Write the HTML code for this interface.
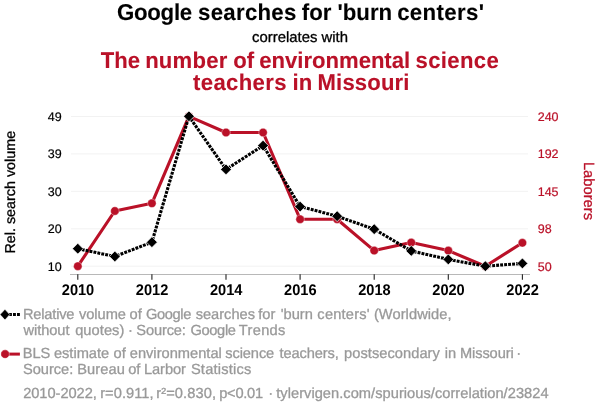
<!DOCTYPE html>
<html lang="en"><head><meta charset="utf-8"><title>Spurious correlation</title>
<style>
html,body{margin:0;padding:0;background:#fff;}
body{width:600px;height:414px;overflow:hidden;}
svg{display:block;font-family:"Liberation Sans",sans-serif;text-rendering:geometricPrecision;}
text{stroke-linejoin:round;}
.t1{font-size:22.24px;font-weight:bold;fill:#000;stroke:#000;stroke-width:.1px;text-anchor:middle;}
.t2{font-size:14.9px;fill:#000;stroke:#000;stroke-width:.3px;text-anchor:middle;}
.t3{font-size:22.11px;font-weight:bold;fill:#ba1128;stroke:#ba1128;stroke-width:.1px;text-anchor:middle;}
.yl{font-size:12.5px;fill:#000;stroke:#000;stroke-width:.18px;text-anchor:end;}
.yr{font-size:12.5px;fill:#ba1128;stroke:#ba1128;stroke-width:.2px;text-anchor:start;}
.xl{font-size:14.6px;font-weight:bold;fill:#000;text-anchor:middle;}
.al{font-size:14.35px;fill:#000;stroke:#000;stroke-width:.3px;text-anchor:middle;}
.ar{font-size:14.75px;fill:#ba1128;stroke:#ba1128;stroke-width:.3px;text-anchor:middle;}
.lg{font-size:14.7px;fill:#999999;stroke:#999999;stroke-width:.3px;}
</style></head><body>
<svg width="600" height="414" viewBox="0 0 600 414">
<rect width="600" height="414" fill="#fff"/>
<g transform="translate(0,20) scale(1,1.030)"><text class="t1" y="0" style="text-anchor:start"><tspan x="116.92" style="letter-spacing:-0.254px">Google</tspan> <tspan x="198.05" style="letter-spacing:0.270px">searches</tspan> <tspan x="301.84">for</tspan> <tspan x="337.45">'burn</tspan> <tspan x="397.16" style="letter-spacing:0.350px">centers'</tspan></text></g>
<text class="t2" transform="translate(300.00,42.00) scale(1,1.000)">correlates with</text>
<g transform="translate(0,68) scale(1,1.030)"><text class="t3" y="0" style="text-anchor:start"><tspan x="100.64">The</tspan> <tspan x="145.13" style="letter-spacing:0.220px">number</tspan> <tspan x="233.14">of</tspan> <tspan x="259.36" style="letter-spacing:-0.031px">environmental</tspan> <tspan x="415.49" style="letter-spacing:0.350px">science</tspan></text></g>
<g transform="translate(0,90) scale(1,1.030)"><text class="t3" y="0" style="text-anchor:start"><tspan x="193.05" style="letter-spacing:0.350px">teachers</tspan> <tspan x="292.53">in</tspan> <tspan x="317.56" style="letter-spacing:0.150px">Missouri</tspan></text></g>
<line x1="71" x2="528" y1="116.5" y2="116.5" stroke="#f2f2f2" stroke-width="1"/>
<line x1="71" x2="528" y1="153.9" y2="153.9" stroke="#f2f2f2" stroke-width="1"/>
<line x1="71" x2="528" y1="191.3" y2="191.3" stroke="#f2f2f2" stroke-width="1"/>
<line x1="71" x2="528" y1="228.8" y2="228.8" stroke="#f2f2f2" stroke-width="1"/>
<line x1="71" x2="528" y1="266.2" y2="266.2" stroke="#f2f2f2" stroke-width="1"/>
<line x1="70" x2="530" y1="274.5" y2="274.5" stroke="#b8b8b8" stroke-width="1"/>
<line x1="77.8" x2="77.8" y1="274.2" y2="279.8" stroke="#222" stroke-width="1.1"/>
<text class="xl" transform="translate(78.00,295.00) scale(1,1.060)">2010</text>
<line x1="151.9" x2="151.9" y1="274.2" y2="279.8" stroke="#222" stroke-width="1.1"/>
<text class="xl" transform="translate(152.10,295.00) scale(1,1.060)">2012</text>
<line x1="226.0" x2="226.0" y1="274.2" y2="279.8" stroke="#222" stroke-width="1.1"/>
<text class="xl" transform="translate(226.20,295.00) scale(1,1.060)">2014</text>
<line x1="300.1" x2="300.1" y1="274.2" y2="279.8" stroke="#222" stroke-width="1.1"/>
<text class="xl" transform="translate(300.30,295.00) scale(1,1.060)">2016</text>
<line x1="374.2" x2="374.2" y1="274.2" y2="279.8" stroke="#222" stroke-width="1.1"/>
<text class="xl" transform="translate(374.40,295.00) scale(1,1.060)">2018</text>
<line x1="448.3" x2="448.3" y1="274.2" y2="279.8" stroke="#222" stroke-width="1.1"/>
<text class="xl" transform="translate(448.50,295.00) scale(1,1.060)">2020</text>
<line x1="522.4" x2="522.4" y1="274.2" y2="279.8" stroke="#222" stroke-width="1.1"/>
<text class="xl" transform="translate(522.60,295.00) scale(1,1.060)">2022</text>
<text class="yl" transform="translate(61.70,121.00) scale(1,1.000)">49</text>
<text class="yr" transform="translate(537.70,121.00) scale(1,1.000)">240</text>
<text class="yl" transform="translate(61.70,158.00) scale(1,1.000)">39</text>
<text class="yr" transform="translate(537.70,158.00) scale(1,1.000)">192</text>
<text class="yl" transform="translate(61.70,196.00) scale(1,1.000)">30</text>
<text class="yr" transform="translate(537.70,196.00) scale(1,1.000)">145</text>
<text class="yl" transform="translate(61.70,233.00) scale(1,1.000)">20</text>
<text class="yr" transform="translate(537.70,233.00) scale(1,1.000)">98</text>
<text class="yl" transform="translate(61.70,271.00) scale(1,1.000)">10</text>
<text class="yr" transform="translate(537.70,271.00) scale(1,1.000)">50</text>
<text class="al" transform="translate(14.90,192.20) rotate(-90) scale(1,1.000)">Rel. search volume</text>
<text class="ar" transform="translate(584.00,191.00) rotate(90) scale(1,1.000)">Laborers</text>
<polyline points="77.8,266.2 114.8,211.0 151.9,203.3 188.9,116.3 226.0,132.5 263.1,132.5 300.1,219.2 337.1,219.2 374.2,250.6 411.2,242.6 448.3,250.6 485.3,266.2 522.4,242.8" fill="none" stroke="#ba1128" stroke-width="3.1" stroke-linejoin="round"/>
<circle cx="77.80" cy="266.20" r="4.25" fill="#ba1128" stroke="#fff" stroke-width="0.40"/>
<circle cx="114.85" cy="211.00" r="4.25" fill="#ba1128" stroke="#fff" stroke-width="0.40"/>
<circle cx="151.90" cy="203.30" r="4.25" fill="#ba1128" stroke="#fff" stroke-width="0.40"/>
<circle cx="188.95" cy="116.30" r="4.25" fill="#ba1128" stroke="#fff" stroke-width="0.40"/>
<circle cx="226.00" cy="132.50" r="4.25" fill="#ba1128" stroke="#fff" stroke-width="0.40"/>
<circle cx="263.05" cy="132.50" r="4.25" fill="#ba1128" stroke="#fff" stroke-width="0.40"/>
<circle cx="300.10" cy="219.20" r="4.25" fill="#ba1128" stroke="#fff" stroke-width="0.40"/>
<circle cx="337.15" cy="219.20" r="4.25" fill="#ba1128" stroke="#fff" stroke-width="0.40"/>
<circle cx="374.20" cy="250.60" r="4.25" fill="#ba1128" stroke="#fff" stroke-width="0.40"/>
<circle cx="411.25" cy="242.60" r="4.25" fill="#ba1128" stroke="#fff" stroke-width="0.40"/>
<circle cx="448.30" cy="250.60" r="4.25" fill="#ba1128" stroke="#fff" stroke-width="0.40"/>
<circle cx="485.35" cy="266.20" r="4.25" fill="#ba1128" stroke="#fff" stroke-width="0.40"/>
<circle cx="522.40" cy="242.80" r="4.25" fill="#ba1128" stroke="#fff" stroke-width="0.40"/>
<polyline points="77.8,248.7 114.8,256.5 151.9,242.2 188.9,116.3 226.0,169.4 263.1,145.6 300.1,206.6 337.1,216.2 374.2,229.2 411.2,250.9 448.3,259.4 485.3,266.2 522.4,263.4" fill="none" stroke="#000" stroke-width="3.1" stroke-dasharray="2.9 1.1" stroke-linejoin="round"/>
<path d="M77.80 243.31L83.19 248.70L77.80 254.09L72.41 248.70Z" fill="#000" stroke="#fff" stroke-width="0.70"/>
<path d="M114.85 251.11L120.24 256.50L114.85 261.89L109.46 256.50Z" fill="#000" stroke="#fff" stroke-width="0.70"/>
<path d="M151.90 236.81L157.29 242.20L151.90 247.59L146.51 242.20Z" fill="#000" stroke="#fff" stroke-width="0.70"/>
<path d="M188.95 110.91L194.34 116.30L188.95 121.69L183.56 116.30Z" fill="#000" stroke="#fff" stroke-width="0.70"/>
<path d="M226.00 164.01L231.39 169.40L226.00 174.79L220.61 169.40Z" fill="#000" stroke="#fff" stroke-width="0.70"/>
<path d="M263.05 140.21L268.44 145.60L263.05 150.99L257.66 145.60Z" fill="#000" stroke="#fff" stroke-width="0.70"/>
<path d="M300.10 201.21L305.49 206.60L300.10 211.99L294.71 206.60Z" fill="#000" stroke="#fff" stroke-width="0.70"/>
<path d="M337.15 210.81L342.54 216.20L337.15 221.59L331.76 216.20Z" fill="#000" stroke="#fff" stroke-width="0.70"/>
<path d="M374.20 223.81L379.59 229.20L374.20 234.59L368.81 229.20Z" fill="#000" stroke="#fff" stroke-width="0.70"/>
<path d="M411.25 245.51L416.64 250.90L411.25 256.29L405.86 250.90Z" fill="#000" stroke="#fff" stroke-width="0.70"/>
<path d="M448.30 254.01L453.69 259.40L448.30 264.79L442.91 259.40Z" fill="#000" stroke="#fff" stroke-width="0.70"/>
<path d="M485.35 260.81L490.74 266.20L485.35 271.59L479.96 266.20Z" fill="#000" stroke="#fff" stroke-width="0.70"/>
<path d="M522.40 258.01L527.79 263.40L522.40 268.79L517.01 263.40Z" fill="#000" stroke="#fff" stroke-width="0.70"/>
<line x1="1" x2="20" y1="314.6" y2="314.6" stroke="#000" stroke-width="3" stroke-dasharray="2.9 1.1"/>
<path d="M4.95 309.21L9.84 314.60L4.95 319.99L0.06 314.60Z" fill="#000" stroke="#fff" stroke-width="0.70"/>
<text class="lg" y="319" style="text-anchor:start;font-size:14.65px"><tspan x="22.89" style="letter-spacing:-0.183px">Relative</tspan> <tspan x="78.89" style="letter-spacing:-0.016px">volume</tspan> <tspan x="129.51">of</tspan> <tspan x="145.89" style="letter-spacing:-0.350px">Google</tspan> <tspan x="195.63" style="letter-spacing:-0.008px">searches</tspan> <tspan x="258.20">for</tspan> <tspan x="280.71">'burn</tspan> <tspan x="317.36" style="letter-spacing:0.201px">centers'</tspan> <tspan x="373.89" style="letter-spacing:0.068px">(Worldwide,</tspan></text>
<text class="lg" y="335" style="text-anchor:start;font-size:14.65px"><tspan x="23.56" style="letter-spacing:-0.075px">without</tspan> <tspan x="75.17" style="letter-spacing:0.063px">quotes)</tspan> <tspan x="128.10">·</tspan> <tspan x="136.29" style="letter-spacing:-0.134px">Source:</tspan> <tspan x="190.49" style="letter-spacing:-0.350px">Google</tspan> <tspan x="238.82" style="letter-spacing:0.303px">Trends</tspan></text>
<line x1="1" x2="19.9" y1="354.1" y2="354.1" stroke="#ba1128" stroke-width="3"/>
<circle cx="5.10" cy="354.10" r="4.25" fill="#ba1128" stroke="#fff" stroke-width="0.40"/>
<text class="lg" y="358" style="text-anchor:start;font-size:14.65px"><tspan x="22.63">BLS</tspan> <tspan x="53.95" style="letter-spacing:-0.013px">estimate</tspan> <tspan x="113.51">of</tspan> <tspan x="129.75" style="letter-spacing:0.006px">environmental</tspan> <tspan x="225.23" style="letter-spacing:-0.100px">science</tspan> <tspan x="279.44" style="letter-spacing:-0.100px">teachers,</tspan> <tspan x="344.02" style="letter-spacing:0.049px">postsecondary</tspan> <tspan x="444.67">in</tspan> <tspan x="459.89" style="letter-spacing:-0.086px">Missouri</tspan> <tspan x="516.15">·</tspan></text>
<text class="lg" y="374" style="text-anchor:start;font-size:14.65px"><tspan x="22.89" style="letter-spacing:-0.001px">Source:</tspan> <tspan x="77.29" style="letter-spacing:0.062px">Bureau</tspan> <tspan x="128.21">of</tspan> <tspan x="143.89" style="letter-spacing:-0.046px">Larbor</tspan> <tspan x="190.89" style="letter-spacing:0.218px">Statistics</tspan></text>
<text class="lg" y="398" style="text-anchor:start;font-size:14.65px"><tspan x="23.15" style="letter-spacing:-0.041px">2010-2022,</tspan> <tspan x="100.17" style="letter-spacing:0.057px">r=0.911,</tspan> <tspan x="156.17" style="letter-spacing:0.125px">r²=0.830,</tspan> <tspan x="219.22" style="letter-spacing:-0.253px">p&lt;0.01</tspan> <tspan x="268.15">·</tspan> <tspan x="276.24" style="letter-spacing:0.033px">tylervigen.com/spurious/correlation/23824</tspan></text>
</svg></body></html>
